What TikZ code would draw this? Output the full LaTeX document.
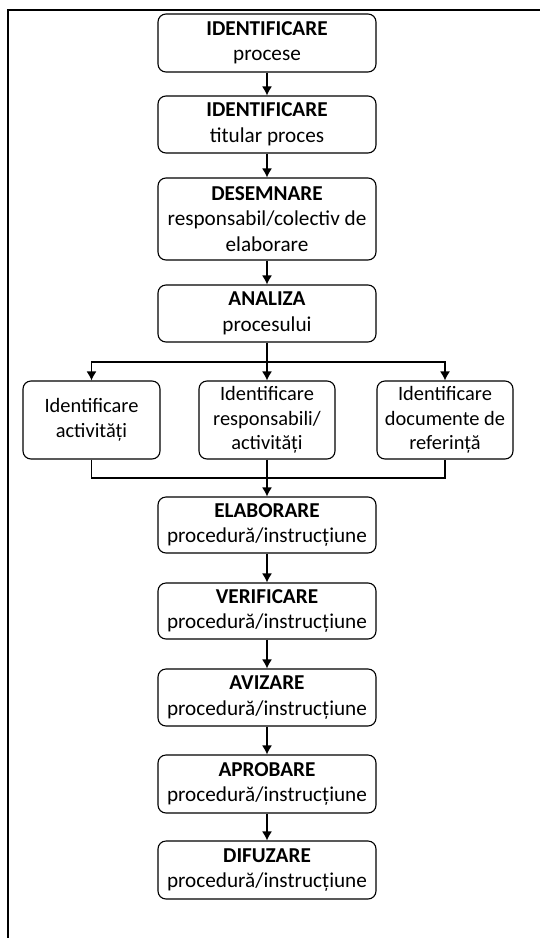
\documentclass[tikz,border=0pt]{standalone}
\usepackage{fontspec}
\setmainfont{Carlito}
\usetikzlibrary{arrows.meta}

\begin{document}
\begin{tikzpicture}[x=1pt,y=-1pt,
  stepbox/.style={draw,line width=1.1pt,rounded corners=8pt,align=center,inner sep=0pt,
    minimum width=218pt,font=\fontsize{21.2}{25.5}\selectfont},
  sidebox/.style={stepbox,minimum width=136pt,minimum height=78pt,font=\fontsize{20.4}{24.5}\selectfont},
  link/.style={line width=1.3pt},
  arrow/.style={link,-{Latex[length=9pt,width=10pt]}}]
% Frame
\useasboundingbox (0,0) rectangle (540,938);
\draw [line width=2pt] (8,938) -- (8,10) -- (540,10);
% Boxes of the main column
\node [stepbox,minimum height=58pt] (identproc) at (267,43) {\textbf{IDENTIFICARE}\\procese};
\node [stepbox,minimum height=57pt] (identtit) at (267,124.5) {\textbf{IDENTIFICARE}\\titular proces};
\node [stepbox,minimum height=82pt] (desemn) at (267,219) {\textbf{DESEMNARE}\\responsabil/colectiv de\\elaborare};
\node [stepbox,minimum height=57pt] (analiza) at (267,313.5) {\textbf{ANALIZA}\\procesului};
% Boxes of the three branches
\node [sidebox,minimum width=137pt] (activ) at (91.5,420) {Identificare\\activități};
\node [sidebox] (resp) at (267,420) {Identificare\\responsabili/\\activități};
\node [sidebox] (docref) at (445,420) {Identificare\\documente de\\referință};
% Boxes after the branches
\node [stepbox,minimum height=56pt] (elab) at (267,525) {\textbf{ELABORARE}\\procedură/instrucțiune};
\node [stepbox,minimum height=56pt] (verif) at (267,611) {\textbf{VERIFICARE}\\procedură/instrucțiune};
\node [stepbox,minimum height=57pt] (aviz) at (267,697.5) {\textbf{AVIZARE}\\procedură/instrucțiune};
\node [stepbox,minimum height=58pt] (aprob) at (267,784) {\textbf{APROBARE}\\procedură/instrucțiune};
\node [stepbox,minimum height=58pt] (difuz) at (267,870) {\textbf{DIFUZARE}\\procedură/instrucțiune};
% Split and join points
\coordinate (split) at (267,362);
\coordinate (join) at (267,478);
% Arrows down the column
\draw [arrow] (identproc) -- (identtit);
\draw [arrow] (identtit) -- (desemn);
\draw [arrow] (desemn) -- (analiza);
% Split into the branches
\draw [arrow] (analiza) -- (resp);
\draw [arrow] (split) -| (activ);
\draw [arrow] (split) -| (docref);
% Join of the branches
\draw [link] (activ) |- (join) -| (docref);
\draw [arrow] (resp) -- (elab);
% Rest of the column
\draw [arrow] (elab) -- (verif);
\draw [arrow] (verif) -- (aviz);
\draw [arrow] (aviz) -- (aprob);
\draw [arrow] (aprob) -- (difuz);
\end{tikzpicture}
\end{document}
